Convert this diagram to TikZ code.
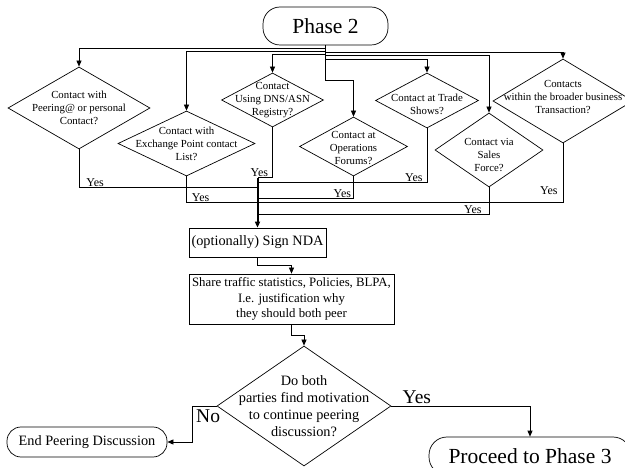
\documentclass[tikz,border=0pt]{standalone}
\usepackage{fontspec}
\setmainfont{Liberation Serif}
\usetikzlibrary{positioning,shapes.geometric,arrows.meta}

\tikzset{
  decision/.style={draw, shape=diamond, inner sep=0pt},
  dtext/.style={align=center, inner sep=0pt, font=\fontsize{10.8}{13}\selectfont},
  yes/.style={inner sep=1pt, font=\fontsize{12}{12}\selectfont},
}

\begin{document}
\begin{tikzpicture}[>={Triangle[length=6pt,width=5pt]}, line width=0.7pt]
\useasboundingbox (0,0) rectangle (625pt,-468pt);
\node[draw, shape=rectangle, rounded corners=17pt, minimum width=125pt, minimum height=38pt, font=\fontsize{21.5}{24}\selectfont] (ph2) at (325.5pt,-26pt) {Phase 2};
% contact diamonds
\node[decision, minimum width=142pt, minimum height=82pt, below of=ph2, node distance=82pt, xshift=-246.5pt] (d1) {};
\node[decision, minimum width=137pt, minimum height=65pt, below of=ph2, node distance=117.5pt, xshift=-139pt] (d2) {};
\node[decision, minimum width=102pt, minimum height=54pt, below of=ph2, node distance=74pt, xshift=-53pt] (d3) {};
\node[decision, minimum width=108pt, minimum height=59pt, below of=ph2, node distance=120.5pt, xshift=28pt] (d4) {};
\node[decision, minimum width=103pt, minimum height=55pt, below of=ph2, node distance=74.5pt, xshift=101.5pt] (d5) {};
\node[decision, minimum width=108pt, minimum height=74pt, below of=ph2, node distance=124pt, xshift=163.5pt] (d6) {};
\node[decision, minimum width=140pt, minimum height=84pt, below of=ph2, node distance=75pt, xshift=237.5pt] (d7) {};
\node[dtext] (t1) at (d1.center) {Contact with\\Peering@ or personal\\Contact?};
\node[dtext] (t2) at (d2.center) {Contact with\\Exchange Point contact\\List?};
\node[dtext] (t3) at (d3.center) {Contact\\Using DNS/ASN\\Registry?};
\node[dtext, yshift=-1.5pt] (t4) at (d4.center) {Contact at\\Operations\\Forums?};
\node[dtext, yshift=-4pt] (t5) at (d5.center) {Contact at Trade\\Shows?};
\node[dtext, yshift=-5pt] (t6) at (d6.center) {Contact via\\Sales\\Force?};
\node[dtext, yshift=4pt] (t7) at (d7.center) {Contacts\\within the broader business\\Transaction?};
% main boxes
\node[draw, shape=rectangle, minimum width=137pt, minimum height=29pt, inner sep=1pt, below of=ph2, node distance=216.5pt, xshift=-68pt, font=\fontsize{14.3}{16}\selectfont] (nda) {(optionally) Sign NDA};
\node[draw, shape=rectangle, minimum width=205pt, minimum height=50pt, inner sep=1pt, below of=nda, node distance=56.5pt, xshift=34pt, align=center, font=\fontsize{12.8}{15.5}\selectfont] (share) {Share traffic statistics, Policies, BLPA,\\I.e. justification why\\they should both peer};
\node[decision, minimum width=174pt, minimum height=120pt, below of=share, node distance=107pt, xshift=12.5pt] (dec) {};
\node[align=center, inner sep=0pt, font=\fontsize{14.3}{17}\selectfont] (tdec) at (dec.center) {Do both\\parties find motivation\\to continue peering\\discussion?};
\node[draw, shape=rectangle, rounded corners=14pt, minimum width=160pt, minimum height=30pt, inner sep=1pt, left of=dec, node distance=217pt, yshift=-36pt, font=\fontsize{14.3}{16}\selectfont] (endp) {End Peering Discussion};
\node[draw, shape=rectangle, rounded corners=18pt, minimum width=202pt, minimum height=38pt, right of=dec, node distance=226pt, yshift=-50pt, font=\fontsize{21.5}{24}\selectfont] (p3) {Proceed to Phase 3};
% from phase 2
\draw[->] (ph2.south) -- ([yshift=-3pt]ph2.south) -| (d1.north);
\draw[->] (ph2.south) -- ([yshift=-6pt]ph2.south) -| (d2.north);
\draw[->] (ph2.south) -- ([yshift=-9pt]ph2.south) -| (d3.north);
\draw[->] (ph2.south) -- ([yshift=-35pt]ph2.south) -| (d4.north);
\draw[->] (ph2.south) -- ([yshift=-14pt]ph2.south) -| (d5.north);
\draw[->] (ph2.south) -- ([yshift=-10pt]ph2.south) -| (d6.north);
\draw[->] (ph2.south) -- ([yshift=-7pt]ph2.south) -| (d7.north);
% yes branches
\draw (d1.south) |- ([yshift=40pt]nda.north) node[yes, pos=0.5, anchor=south west, xshift=6pt] (y1) {Yes};
\draw (d2.south) |- ([yshift=25pt]nda.north) node[yes, pos=0.5, anchor=south west, xshift=4pt] (y2) {Yes};
\draw (d3.south) |- ([yshift=50pt]nda.north) node[yes, pos=0.5, anchor=south east, xshift=-3pt] (y3) {Yes};
\draw (d4.south) |- ([yshift=29pt]nda.north) node[yes, pos=0.5, anchor=south east, xshift=-1pt] (y4) {Yes};
\draw (d5.south) |- ([yshift=45pt]nda.north) node[yes, pos=0.5, anchor=south east, xshift=-3pt] (y5) {Yes};
\draw (d6.south) |- ([yshift=13pt]nda.north) node[yes, pos=0.5, anchor=south east, xshift=-6pt] (y6) {Yes};
\draw (d7.south) |- ([yshift=25pt]nda.north) node[yes, pos=0.5, anchor=south east, xshift=-4pt, yshift=7pt] (y7) {Yes};
\draw[->, line width=2pt] ([yshift=50pt]nda.north) -- (nda.north);
% down the chain
\draw[->] (nda.south) -- ([yshift=-8pt]nda.south) -| (share.north);
\draw[->] (share.south) -- ([yshift=-11pt]share.south) -| (dec.north);
\draw[->] (dec.west) -- ([xshift=-24pt]dec.west) |- (endp.east);
\draw[->] (dec.east) -| (p3.north);
\node[font=\fontsize{19.5}{20}\selectfont, inner sep=0pt, xshift=-8.5pt, yshift=-10pt] (no) at (dec.west) {No};
\node[font=\fontsize{19.5}{20}\selectfont, inner sep=0pt, xshift=25.5pt, yshift=9pt] (yd) at (dec.east) {Yes};
\end{tikzpicture}
\end{document}
